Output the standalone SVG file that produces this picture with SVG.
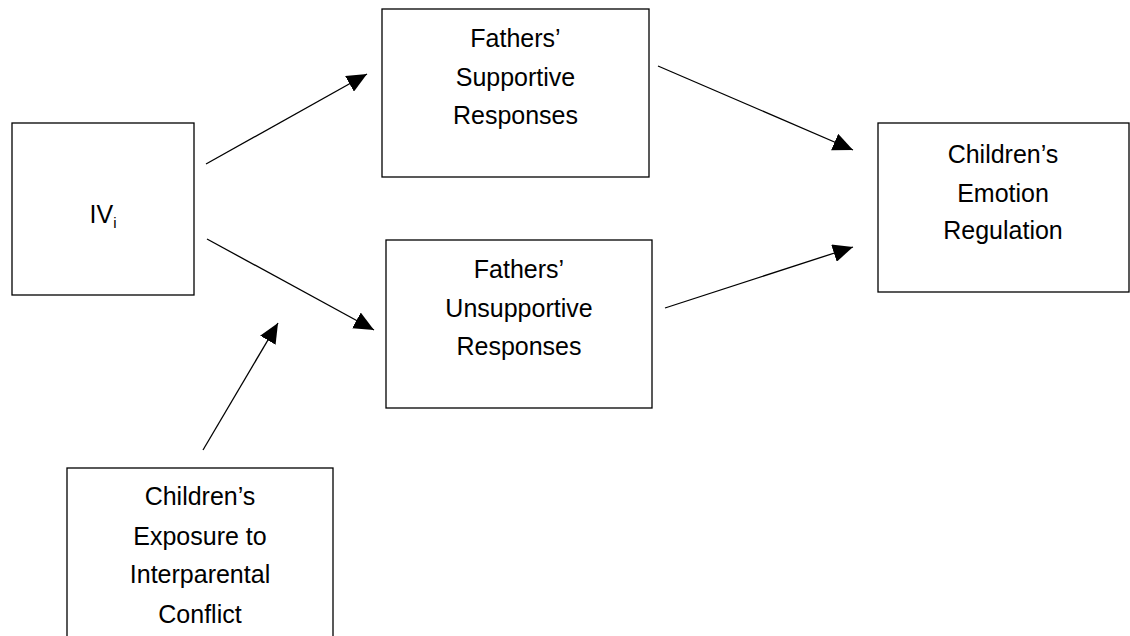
<svg xmlns="http://www.w3.org/2000/svg" width="1130" height="636" viewBox="0 0 1130 636">
<style>
.box{fill:#fff;stroke:#000;stroke-width:1.3}
.lbl{font-family:"Liberation Sans",Arial,sans-serif;font-size:25px;fill:#000;text-anchor:middle}
.conn{stroke:#000;stroke-width:1.3;fill:none;marker-end:url(#ah)}
</style>
<defs>
<marker id="ah" markerUnits="userSpaceOnUse" markerWidth="22" markerHeight="18" viewBox="0 0 22 18" refX="20" refY="9" orient="auto">
<path d="M0,0 L20,9 L0,18 Z" fill="#000"/>
</marker>
</defs>
<rect width="1130" height="636" fill="#fff"/>
<g id="iv">
<rect class="box" x="12" y="123" width="182" height="172"/>
<text class="lbl" x="103" y="223">IV<tspan font-size="15" dy="5">i</tspan></text>
</g>
<g id="supportive">
<rect class="box" x="382" y="9" width="267" height="168"/>
<text class="lbl" x="515.5" y="47">Fathers’</text>
<text class="lbl" x="515.5" y="86">Supportive</text>
<text class="lbl" x="515.5" y="124">Responses</text>
</g>
<g id="unsupportive">
<rect class="box" x="386" y="240" width="266" height="168"/>
<text class="lbl" x="519" y="278">Fathers’</text>
<text class="lbl" x="519" y="317">Unsupportive</text>
<text class="lbl" x="519" y="355">Responses</text>
</g>
<g id="emotion">
<rect class="box" x="878" y="123" width="251" height="169"/>
<text class="lbl" x="1003" y="163">Children’s</text>
<text class="lbl" x="1003" y="202">Emotion</text>
<text class="lbl" x="1003" y="239">Regulation</text>
</g>
<g id="exposure">
<rect class="box" x="67" y="468" width="266" height="200"/>
<text class="lbl" x="200" y="505">Children’s</text>
<text class="lbl" x="200" y="545">Exposure to</text>
<text class="lbl" x="200" y="583">Interparental</text>
<text class="lbl" x="200" y="623">Conflict</text>
</g>
<g id="connectors">
<line class="conn" x1="206" y1="164" x2="367" y2="74"/>
<line class="conn" x1="207" y1="239" x2="374" y2="330"/>
<line class="conn" x1="203" y1="450" x2="278" y2="323"/>
<line class="conn" x1="658" y1="66" x2="853" y2="150"/>
<line class="conn" x1="665" y1="308" x2="853" y2="247"/>
</g>
</svg>
